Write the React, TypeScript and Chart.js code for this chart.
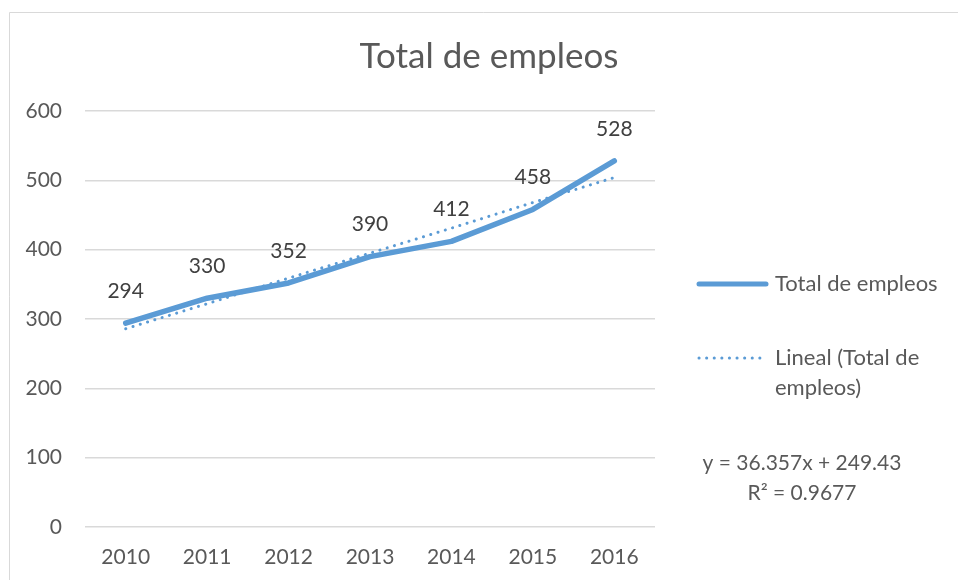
import React, { useEffect, useRef } from "react";
import { Chart, registerables } from "chart.js";

Chart.register(...registerables);

const categories = ["2010", "2011", "2012", "2013", "2014", "2015", "2016"];
const totalEmpleos = [294, 330, 352, 390, 412, 458, 528];
// Linear trendline values (y = 36.357x + 249.43)
const trendLineal = [286, 322, 359, 395, 431, 468, 504];
const yTicks = [0, 100, 200, 300, 400, 500, 600];
const chartTitle = "Total de empleos";
const legendLabels = ["Total de empleos", "Lineal (Total de", "empleos)"];
const equationLines = ["y = 36.357x + 249.43", "R² = 0.9677"];

const FONT = "Lato, 'Open Sans', sans-serif";
const TEXT = "#595959";
const BLUE = "#5B9BD5";
const GRID = "#D9D9D9";

export default function App() {
  const ref = useRef<HTMLCanvasElement | null>(null);

  useEffect(() => {
    if (!ref.current) return;
    const overlay = {
      id: "overlay",
      beforeDraw(chart: any) {
        const ctx = chart.ctx;
        ctx.save();
        ctx.fillStyle = "#ffffff";
        ctx.fillRect(0, 0, chart.width, chart.height);
        ctx.strokeStyle = GRID;
        ctx.lineWidth = 1;
        ctx.beginPath();
        ctx.moveTo(9.5, chart.height);
        ctx.lineTo(9.5, 12.5);
        ctx.lineTo(chart.width, 12.5);
        ctx.stroke();
        ctx.restore();
      },
      afterDatasetsDraw(chart: any) {
        const ctx = chart.ctx;
        ctx.save();
        // data labels
        const meta = chart.getDatasetMeta(0);
        ctx.fillStyle = "#404040";
        ctx.font = `21px ${FONT}`;
        ctx.textAlign = "center";
        ctx.textBaseline = "middle";
        meta.data.forEach((pt: any, i: number) => {
          ctx.fillText(String(totalEmpleos[i]), pt.x, pt.y - 32);
        });
        // title
        ctx.fillStyle = TEXT;
        ctx.font = `35px ${FONT}`;
        ctx.fillText(chartTitle, 489, 57);
        // legend
        ctx.strokeStyle = BLUE;
        ctx.lineCap = "round";
        ctx.lineWidth = 5;
        ctx.beginPath();
        ctx.moveTo(699, 284);
        ctx.lineTo(766, 284);
        ctx.stroke();
        ctx.lineWidth = 3;
        ctx.setLineDash([0.1, 7.5]);
        ctx.beginPath();
        ctx.moveTo(699, 358);
        ctx.lineTo(762, 358);
        ctx.stroke();
        ctx.setLineDash([]);
        ctx.font = `22px ${FONT}`;
        ctx.textAlign = "left";
        ctx.fillText(legendLabels[0], 775, 284);
        ctx.fillText(legendLabels[1], 775, 358);
        ctx.fillText(legendLabels[2], 775, 388);
        ctx.font = `21px ${FONT}`;
        ctx.textAlign = "center";
        ctx.fillText(equationLines[0], 802, 463);
        ctx.fillText(equationLines[1], 802, 493);
        ctx.restore();
      },
    };

    const chart = new Chart(ref.current, {
      type: "line",
      data: {
        labels: categories,
        datasets: [
          {
            label: "Total de empleos",
            data: totalEmpleos,
            borderColor: BLUE,
            backgroundColor: BLUE,
            borderWidth: 5.5,
            pointRadius: 0,
            borderCapStyle: "round",
            borderJoinStyle: "round",
            tension: 0,
            order: 1,
          },
          {
            label: "Lineal (Total de empleos)",
            data: trendLineal,
            borderColor: BLUE,
            backgroundColor: BLUE,
            borderWidth: 3,
            borderDash: [0.1, 7.5],
            borderCapStyle: "round",
            pointRadius: 0,
            tension: 0,
            order: 0,
          },
        ],
      },
      options: {
        animation: false,
        responsive: false,
        maintainAspectRatio: false,
        layout: { padding: { left: 10, top: 111, right: 303, bottom: 0 } },
        plugins: {
          legend: { display: false },
          title: { display: false },
          tooltip: { enabled: false },
        },
        scales: {
          x: {
            offset: true,
            grid: { display: false, drawTicks: false },
            border: { display: false },
            ticks: {
              color: TEXT,
              font: { family: FONT, size: 21 },
              padding: 18,
              maxRotation: 0,
            },
            afterFit(scale: any) {
              scale.height = 53;
            },
          },
          y: {
            min: 0,
            max: 600,
            afterBuildTicks(scale: any) {
              scale.ticks = yTicks.map((v) => ({ value: v }));
            },
            grid: { color: GRID, lineWidth: 1.5, drawTicks: false },
            border: { display: false },
            ticks: {
              color: TEXT,
              font: { family: FONT, size: 21 },
              padding: 23,
            },
            afterFit(scale: any) {
              scale.width = 75;
            },
          },
        },
      },
      plugins: [overlay],
    } as any);
    return () => chart.destroy();
  }, []);

  return (
    <div style={{ position: "absolute", left: 0, top: 0, width: 958, height: 580 }}>
      <canvas ref={ref} width={958} height={580} style={{ width: 958, height: 580, display: "block" }} />
    </div>
  );
}
